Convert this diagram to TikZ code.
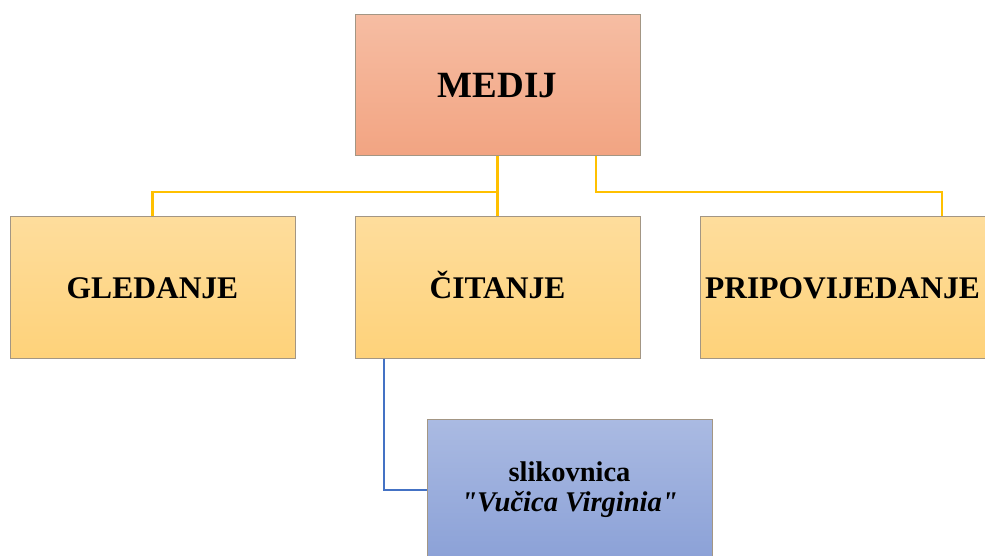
\documentclass[tikz,border=0pt]{standalone}
\usepackage{fontspec}
\setmainfont{Liberation Serif}[Ligatures=TeXOff]
\usepackage{xcolor}
\usepackage{tikz}

\definecolor{medijtop}{HTML}{F6BDA3}
\definecolor{medijbot}{HTML}{F2A482}
\definecolor{zutotop}{HTML}{FEDD9C}
\definecolor{zutobot}{HTML}{FED27A}
\definecolor{plavotop}{HTML}{AABAE2}
\definecolor{plavobot}{HTML}{8BA1D7}
\definecolor{rub}{HTML}{A39684}
\definecolor{zutalinija}{HTML}{FFC000}
\definecolor{plavalinija}{HTML}{4472C4}

\tikzset{
  kutija/.style={draw=rub, line width=1pt, minimum width=285pt, minimum height=141pt,
    inner sep=0pt, align=center},
  korijen/.style={kutija, top color=medijtop, bottom color=medijbot,
    font=\fontsize{37}{44}\selectfont\bfseries, text height=25pt, text depth=0pt},
  grana/.style={kutija, top color=zutotop, bottom color=zutobot,
    font=\fontsize{31.5}{38}\selectfont\bfseries, text height=21pt, text depth=0pt},
  list/.style={kutija, top color=plavotop, bottom color=plavobot,
    font=\fontsize{28.5}{30}\selectfont\bfseries},
  zveza/.style={zutalinija, line width=2.5pt},
  plavaveza/.style={plavalinija, line width=2pt}
}

\begin{document}
\begin{tikzpicture}[x=1pt, y=-1pt]
        \useasboundingbox (0,0) rectangle (985,556);

        % Boxes
        \node[korijen] (medij) at (497.5,85) {MEDIJ};
        \node[grana] (gledanje) at (152.5,287.5) {GLEDANJE};
        \node[grana] (citanje) at (497.5,287.5) {ČITANJE};
        \node[grana] (pripov) at (842.5,287.5) {PRIPOVIJEDANJE};
        \node[list] (slik) at (569.5,490) {slikovnica\\
            \itshape "Vučica Virginia"};

        % Connections
        \draw[zveza] (medij.south) -- (citanje.north);
        \draw[zveza] (medij.south) ++(0,36) -| (gledanje.north);
        \draw[zveza] ([xshift=98.5pt]medij.south) -- ++(0,36) -| ([xshift=99.5pt]pripov.north);
        \draw[plavaveza] ([xshift=-113.5pt]citanje.south) |- (slik.west);
    \end{tikzpicture}
\end{document}
